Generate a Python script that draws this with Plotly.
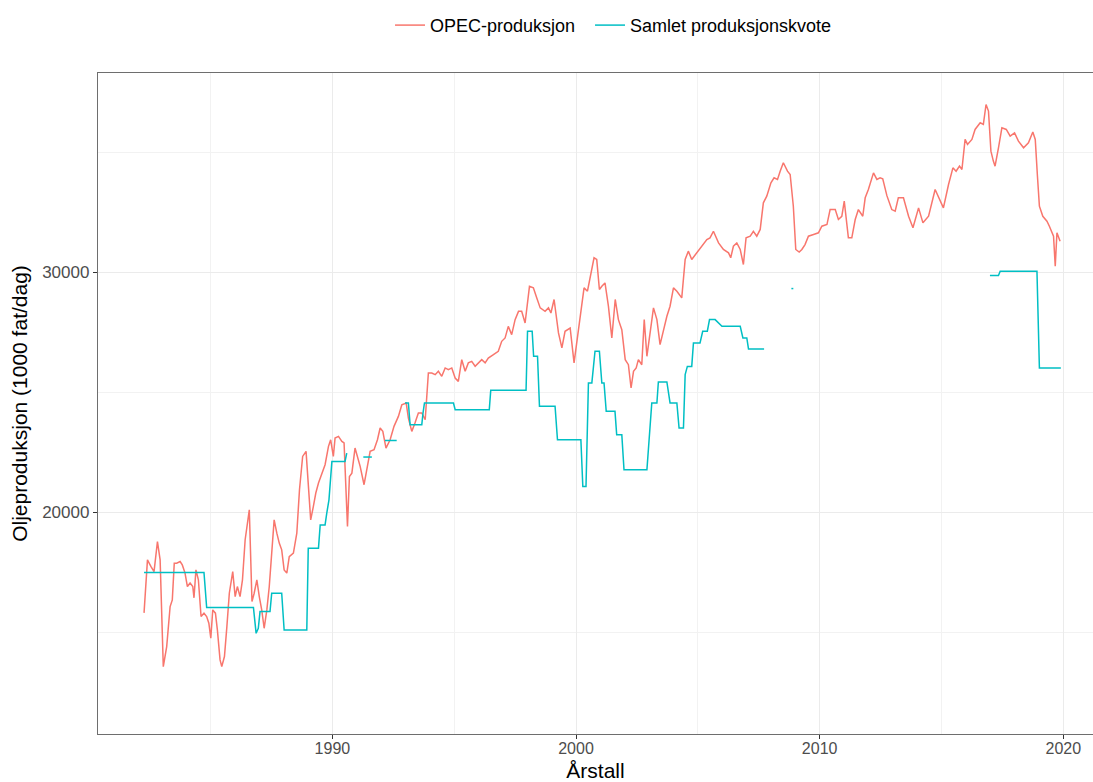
import plotly.graph_objects as go

# OPEC crude oil production, 1000 barrels/day (decimal year, value)
opec_year = [
    1982.27, 1982.41, 1982.55, 1982.68, 1982.82, 1982.93, 1983.06, 1983.20, 1983.34, 1983.43,
    1983.51, 1983.61, 1983.75, 1983.84, 1983.95, 1984.05, 1984.16, 1984.27, 1984.32, 1984.40,
    1984.50, 1984.61, 1984.73, 1984.84, 1984.93, 1985.01, 1985.09, 1985.20, 1985.28, 1985.39,
    1985.46, 1985.57, 1985.67, 1985.77, 1985.91, 1986.01, 1986.10, 1986.21, 1986.31, 1986.42,
    1986.59, 1986.65, 1986.70, 1986.79, 1986.90, 1987.00, 1987.10, 1987.20, 1987.31, 1987.41,
    1987.51, 1987.61, 1987.72, 1987.82, 1987.92, 1988.02, 1988.13, 1988.23, 1988.40, 1988.54,
    1988.65, 1988.78, 1988.92, 1989.01, 1989.11, 1989.22, 1989.32, 1989.43, 1989.56, 1989.70,
    1989.84, 1989.93, 1990.04, 1990.11, 1990.25, 1990.39, 1990.48, 1990.62, 1990.70, 1990.80,
    1990.93, 1991.14, 1991.30, 1991.41, 1991.55, 1991.71, 1991.85, 1991.96, 1992.07, 1992.20,
    1992.37, 1992.53, 1992.71, 1992.85, 1993.03, 1993.12, 1993.26, 1993.39, 1993.53, 1993.67,
    1993.81, 1993.94, 1994.08, 1994.22, 1994.35, 1994.49, 1994.63, 1994.76, 1994.90, 1995.04,
    1995.17, 1995.31, 1995.45, 1995.58, 1995.72, 1995.86, 1995.99, 1996.13, 1996.27, 1996.40,
    1996.61, 1996.81, 1996.95, 1997.09, 1997.22, 1997.36, 1997.50, 1997.64, 1997.77, 1997.91,
    1998.09, 1998.25, 1998.39, 1998.53, 1998.73, 1998.87, 1998.97, 1999.10, 1999.28, 1999.42,
    1999.55, 1999.76, 1999.92, 2000.06, 2000.17, 2000.33, 2000.47, 2000.61, 2000.74, 2000.85,
    2000.96, 2001.06, 2001.19, 2001.33, 2001.47, 2001.61, 2001.74, 2001.88, 2002.02, 2002.15,
    2002.26, 2002.36, 2002.47, 2002.56, 2002.70, 2002.80, 2002.91, 2003.18, 2003.32, 2003.45,
    2003.59, 2003.73, 2003.86, 2004.00, 2004.14, 2004.34, 2004.48, 2004.61, 2004.75, 2004.96,
    2005.16, 2005.37, 2005.50, 2005.64, 2005.85, 2006.05, 2006.26, 2006.35, 2006.46, 2006.60,
    2006.74, 2006.87, 2006.98, 2007.15, 2007.28, 2007.42, 2007.56, 2007.69, 2007.83, 2008.00,
    2008.13, 2008.27, 2008.38, 2008.51, 2008.68, 2008.79, 2008.92, 2009.02, 2009.16, 2009.27,
    2009.40, 2009.54, 2009.75, 2009.95, 2010.09, 2010.30, 2010.43, 2010.64, 2010.77, 2010.91,
    2011.01, 2011.18, 2011.32, 2011.46, 2011.59, 2011.77, 2011.87, 2012.00, 2012.21, 2012.35,
    2012.48, 2012.59, 2012.76, 2012.96, 2013.10, 2013.23, 2013.44, 2013.65, 2013.83, 2014.06,
    2014.24, 2014.47, 2014.74, 2014.92, 2015.08, 2015.29, 2015.47, 2015.60, 2015.74, 2015.84,
    2015.97, 2016.07, 2016.25, 2016.38, 2016.59, 2016.72, 2016.83, 2016.93, 2017.03, 2017.13,
    2017.20, 2017.34, 2017.48, 2017.66, 2017.82, 2018.00, 2018.16, 2018.37, 2018.57, 2018.75,
    2018.85, 2018.94, 2019.02, 2019.16, 2019.33, 2019.43, 2019.53, 2019.60, 2019.67, 2019.74,
    2019.87,
]
opec_value = [
    15800, 18010, 17740, 17525, 18777, 18010, 13560, 14395, 16065, 16344,
    17875, 17875, 17945, 17800, 17470, 16900, 17050, 16900, 16430, 17595,
    17180, 15650, 15790, 15650, 15370, 14745, 15925, 15790, 15090, 13840,
    13560, 13980, 15230, 16620, 17525, 16480, 16900, 16480, 17180, 18850,
    20100, 18300, 16275, 16620, 17180, 16480, 15925, 15160, 15925, 16900,
    18290, 19680, 19125, 18710, 18430, 17595, 17460, 18150, 18290, 19125,
    20935, 22325, 22535, 20935, 19680, 20240, 20800, 21215, 21630, 21980,
    22745, 23020, 22325, 23090, 23160, 22950, 22885, 19400, 21490, 21630,
    22675, 21910, 21145, 21770, 22535, 22605, 23020, 23510, 23370, 22675,
    23020, 23580, 23995, 24480, 24550, 23925, 23370, 23720, 24135, 24135,
    23855, 25805, 25805, 25735, 25875, 25665, 26015, 25945, 26015, 25595,
    25455, 26360, 25875, 26225, 26290, 26085, 26225, 26360, 26225, 26430,
    26570, 26710, 27125, 27265, 27750, 27405, 28030, 28375, 28375, 27890,
    29420, 29355, 28935, 28520, 28375, 28520, 28305, 28870, 27475, 26850,
    27545, 27680, 26225, 27265, 28030, 29355, 29215, 29980, 30610, 30540,
    29285, 29420, 29560, 28590, 27265, 28870, 28030, 27610, 26360, 26150,
    25180, 25875, 26015, 26360, 26150, 28030, 26500, 28520, 28030, 26985,
    27610, 28170, 28590, 29355, 29215, 28935, 30540, 30885, 30540, 30815,
    31090, 31370, 31440, 31715, 31230, 30955, 30815, 30610, 31090, 31230,
    30955, 30330, 31440, 31510, 31715, 31510, 31790, 32900, 33180, 33735,
    33945, 33875, 34220, 34570, 34220, 34080, 32760, 30955, 30845, 30955,
    31160, 31510, 31580, 31650, 31925, 31995, 32620, 32620, 32205, 32340,
    32970, 31440, 31440, 32205, 32620, 32340, 33110, 33455, 34150, 33875,
    33945, 33900, 33200, 32620, 32550, 33110, 33110, 32340, 31860, 32690,
    32065, 32340, 33455, 33040, 32690, 33665, 34360, 34220, 34430, 34290,
    35545, 35335, 35545, 35960, 36240, 36170, 37000, 36725, 35055, 34640,
    34430, 35195, 36030, 35960, 35680, 35820, 35475, 35195, 35405, 35850,
    35545, 34010, 32760, 32340, 32135, 31925, 31715, 31510, 30260, 31650,
    31300,
]

# Combined OPEC production quota; None marks months without a quota
quota_year = [
    1982.27, 1984.73, 1984.84, 1986.76, 1986.87, 1986.96, 1987.03, 1987.44, 1987.51, 1987.92,
    1988.02, 1988.95, 1989.01, 1989.43, 1989.50, 1989.70, 1989.77, 1989.86, 1989.98, 1990.52,
    1990.59, None, 1991.27, 1991.62, None, 1992.16, 1992.64, None, 1992.98, 1993.12,
    1993.19, 1993.67, 1993.72, 1993.78, 1994.97, 1995.04, 1996.44, 1996.50, 1997.95, 1998.01,
    1998.20, 1998.26, 1998.42, 1998.50, 1999.14, 1999.24, 2000.20, 2000.28, 2000.41, 2000.51,
    2000.65, 2000.78, 2000.96, 2001.06, 2001.15, 2001.24, 2001.60, 2001.67, 2001.88, 2001.97,
    2002.91, 2003.11, 2003.32, 2003.38, 2003.73, 2003.86, 2004.14, 2004.23, 2004.41, 2004.48,
    2004.57, 2004.75, 2004.82, 2005.09, 2005.20, 2005.39, 2005.48, 2005.71, 2005.99, 2006.74,
    2006.85, 2007.01, 2007.08, 2007.72, None, 2008.84, 2008.92, None, 2016.99, 2017.34,
    2017.41, 2018.92, 2019.02, 2019.90,
]
quota_value = [
    17485, 17485, 16025, 16025, 14950, 15160, 15855, 15855, 16620, 16620,
    15090, 15090, 18500, 18500, 19470, 19470, 19960, 20515, 22115, 22115,
    22465, None, 22300, 22300, None, 22990, 22990, None, 24555, 24555,
    23650, 23650, 24135, 24555, 24555, 24275, 24275, 25080, 25080, 27545,
    27545, 26500, 26500, 24420, 24420, 23020, 23020, 21075, 21075, 25390,
    25390, 26710, 26710, 25390, 25390, 24205, 24205, 23230, 23230, 21770,
    21770, 24555, 24555, 25430, 25430, 24555, 24555, 23510, 23510, 25735,
    26080, 26080, 27060, 27060, 27545, 27545, 28030, 28030, 27750, 27750,
    27265, 27265, 26810, 26810, None, 29325, 29325, None, 29870, 29870,
    30050, 30050, 26015, 26015,
]

series_names = ["OPEC-produksjon", "Samlet produksjonskvote"]
series_colors = ["#F8766D", "#00BFC4"]
x_ticks = [1990, 2000, 2010, 2020]
y_ticks = [20000, 30000]

FONT = "Liberation Sans, Arial, sans-serif"

fig = go.Figure()
fig.add_trace(go.Scatter(
    x=opec_year, y=opec_value, mode="lines", name=series_names[0],
    line=dict(color=series_colors[0], width=1.5), legend="legend",
))
fig.add_trace(go.Scatter(
    x=quota_year, y=quota_value, mode="lines", name=series_names[1],
    line=dict(color=series_colors[1], width=1.5), connectgaps=False,
    legend="legend2",
))

legend_style = dict(
    orientation="h", xanchor="left", y=1.10, yanchor="top",
    font=dict(size=18, color="#000000"), bgcolor="rgba(0,0,0,0)",
    itemwidth=30,
)

fig.update_layout(
    width=1093, height=782,
    margin=dict(l=98, r=0, t=73, b=48),
    paper_bgcolor="white", plot_bgcolor="white",
    font=dict(family=FONT, color="#000000"),
    showlegend=True,
    legend=dict(x=0.2935, **legend_style),
    legend2=dict(x=0.4945, **legend_style),
)

fig.update_xaxes(
    range=[1980.38, 2021.22], tickvals=x_ticks, ticktext=[str(v) for v in x_ticks],
    showgrid=True, gridcolor="#EBEBEB", gridwidth=1.2,
    minor=dict(dtick=5, tick0=1980, showgrid=True, gridcolor="#F2F2F2", gridwidth=0.7),
    zeroline=False, showline=True, linecolor="#6E6E6E", linewidth=1.3, mirror=True,
    ticks="outside", ticklen=4, tickcolor="#333333", tickwidth=1,
    tickfont=dict(size=16, color="#4D4D4D"), ticklabelstandoff=-4,
    title=dict(text="Årstall", font=dict(size=21, color="#000000"), standoff=6),
    automargin=False,
)
fig.update_yaxes(
    range=[10751, 38314], tickvals=y_ticks, ticktext=[str(v) for v in y_ticks],
    showgrid=True, gridcolor="#EBEBEB", gridwidth=1.2,
    minor=dict(dtick=5000, tick0=0, showgrid=True, gridcolor="#F2F2F2", gridwidth=0.7),
    zeroline=False, showline=True, linecolor="#6E6E6E", linewidth=1.3, mirror=False,
    ticks="outside", ticklen=4, tickcolor="#333333", tickwidth=1,
    tickfont=dict(size=17, color="#4D4D4D"),
    title=dict(text="Oljeproduksjon (1000 fat/dag)", font=dict(size=21, color="#000000"), standoff=8),
    automargin=False,
)

fig.write_html("out.html")
